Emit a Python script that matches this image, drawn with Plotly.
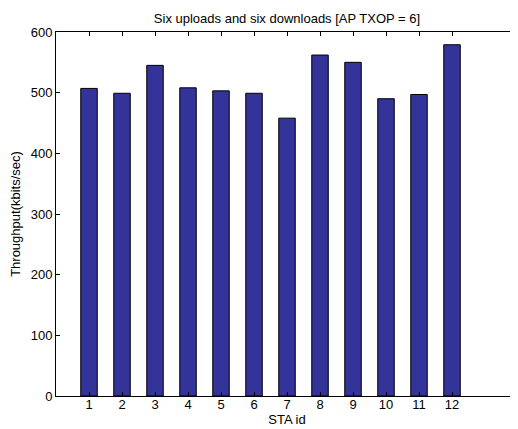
import plotly.graph_objects as go

sta_ids = [1, 2, 3, 4, 5, 6, 7, 8, 9, 10, 11, 12]
throughput = [507, 499, 545, 508, 503, 499, 458, 562, 550, 490, 497, 579]
y_ticks = [0, 100, 200, 300, 400, 500, 600]

fig = go.Figure()
fig.add_trace(go.Bar(
    x=sta_ids, y=throughput, width=0.5,
    marker=dict(color="#333399", line=dict(color="black", width=1)),
))

font = "Liberation Sans, Arial, Helvetica, sans-serif"
# page body has an 8px default margin, so the figure is offset by (8, 8)
fig.update_layout(
    width=510, height=421,
    margin=dict(l=48, r=0, t=24, b=33),
    paper_bgcolor="white", plot_bgcolor="white",
    font=dict(family=font, size=13, color="black"),
    showlegend=False,
    title=dict(text="Six uploads and six downloads [AP TXOP = 6]",
               x=0.5, xanchor="center", xref="paper",
               y=1, yref="paper", yanchor="bottom", pad=dict(b=9),
               font=dict(size=13)),
)
fig.update_xaxes(
    range=[0, 14], tickvals=sta_ids, ticktext=[str(s) for s in sta_ids],
    showline=True, mirror="ticks", linecolor="black", linewidth=1,
    ticks="inside", ticklen=4, tickcolor="black", ticklabelstandoff=-4,
    showgrid=False, zeroline=False, automargin=False,
    title=dict(text="STA id", standoff=2, font=dict(size=13)),
)
fig.update_yaxes(
    range=[0, 600], tickvals=y_ticks,
    showline=True, mirror="ticks", linecolor="black", linewidth=1,
    ticks="inside", ticklen=4, tickcolor="black",
    showgrid=False, zeroline=False, automargin=False,
    title=dict(text="Throughput(kbits/sec)", standoff=7, font=dict(size=13)),
)
fig.write_html("out.html")
